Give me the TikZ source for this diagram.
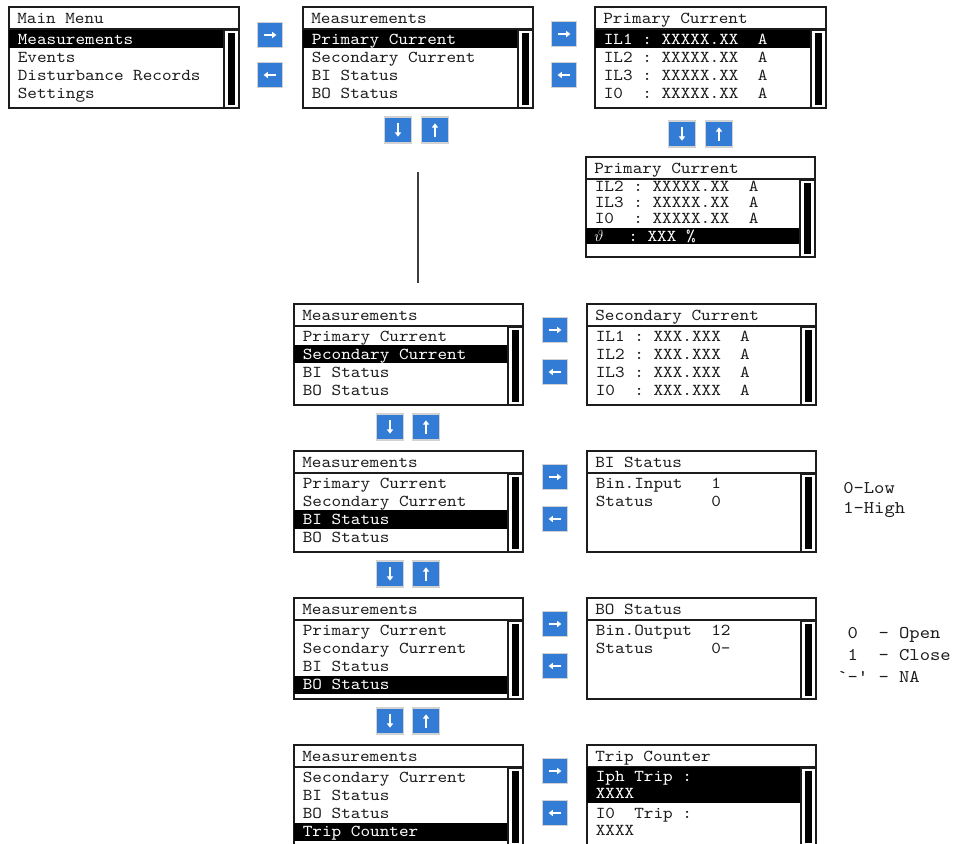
\documentclass[tikz,border=0pt]{standalone}
\usepackage{fontspec}
\newfontfamily\lcdfont[FakeStretch=1.1]{lmmono10-regular.otf}
\usetikzlibrary{fit,arrows.meta}
\definecolor{btnblue}{RGB}{50,124,214}
\definecolor{ink}{RGB}{28,28,28}
\tikzset{
  frame/.style={draw=ink, line width=1.2pt, inner sep=0pt},
  thumb/.style={fill=black, inner sep=0pt},
  selbar/.style={fill=black, inner sep=0pt},
  lcdtext/.style={anchor=base west, inner sep=0pt, font=\lcdfont\fontsize{12.5}{13}\selectfont, text=ink},
  seltext/.style={lcdtext, text=white},
  notetext/.style={anchor=base west, inner sep=0pt, font=\lcdfont\fontsize{13.4}{14}\selectfont, text=ink},
  btn/.style={fill=btnblue, draw=gray!35, line width=1.2pt, minimum width=18.5pt, minimum height=18.5pt, inner sep=0pt},
  vbtn/.style={btn, minimum width=20pt, minimum height=19.5pt},
  btnarrow/.style={white, line width=1.3pt, -{Triangle[length=3.2pt,width=4.6pt]}},
  link/.style={draw=ink!85, line width=1.5pt},
}
% screen: #1 name, #2 left, #3 top, #4 right, #5 title, #6 bottom
\newcommand\lcdscreen[6]{%
  \node[frame, fit={(#2,#3) (#4,#3+22)}] (#1-title) {};
  \node[lcdtext] (#1-head) at (#2+8,#3+16) {#5};
  \node[frame, fit={(#2,#3+22) (#4,#6)}] (#1-body) {};
}
\newcommand\lcdscroll[4]{% #1 name, #2 right, #3 top, #4 bottom
  \node[frame, fit={(#2-15,#3+23) (#2,#4)}] (#1-sbar) {};
  \node[thumb, fit={(#2-11,#3+26) (#2-4,#4-3)}] (#1-thumb) {};
}
% row: #1 name #2 L #3 R #4 T #5 index #6 text
\newcommand\lcdrow[6]{%
  \pgfmathsetmacro\rowbase{#4+37+18.2*#5}%
  \node[lcdtext] (#1) at (#2+8.5,\rowbase) {#6};
}
\newcommand\lcdsel[6]{%
  \pgfmathsetmacro\rowtop{#4+23+18.2*#5}%
  \pgfmathsetmacro\rowbase{#4+37+18.2*#5}%
  \node[selbar, fit={(#2,\rowtop) (#3-15,\rowtop+18.2)}] (#1-bar) {};
  \node[seltext] (#1) at (#2+8.5,\rowbase) {#6};
}
\newcommand\btnright[2]{\node[btn] (#1) at (#2) {};
  \draw[btnarrow] ([xshift=-4.8pt]#1.center) -- ([xshift=4.8pt]#1.center);}
\newcommand\btnleft[2]{\node[btn] (#1) at (#2) {};
  \draw[btnarrow] ([xshift=4.8pt]#1.center) -- ([xshift=-4.8pt]#1.center);}
\newcommand\btndown[2]{\node[vbtn] (#1) at (#2) {};
  \draw[btnarrow] ([yshift=5pt]#1.center) -- ([yshift=-5pt]#1.center);}
\newcommand\btnup[2]{\node[vbtn] (#1) at (#2) {};
  \draw[btnarrow] ([yshift=-5pt]#1.center) -- ([yshift=5pt]#1.center);}

\begin{document}
\begin{tikzpicture}[x=0.75pt,y=-0.75pt]
\useasboundingbox (0,0) rectangle (968,843);
\clip (0,0) rectangle (968,843);

% ---------- Main Menu ----------
\lcdscreen{mm}{9}{7}{239}{Main Menu}{108}
\lcdsel{mm0}{9}{239}{7}{0}{Measurements}
\lcdrow{mm1}{9}{239}{7}{1}{Events}
\lcdrow{mm2}{9}{239}{7}{2}{Disturbance Records}
\lcdrow{mm3}{9}{239}{7}{3}{Settings}
\lcdscroll{mm}{239}{7}{108}

\btnright{b1r}{270,35}
\btnleft{b1l}{270,75}

% ---------- Measurements (top) ----------
\lcdscreen{m1}{303}{7}{533}{Measurements}{108}
\lcdsel{m1r0}{303}{533}{7}{0}{Primary Current}
\lcdrow{m1r1}{303}{533}{7}{1}{Secondary Current}
\lcdrow{m1r2}{303}{533}{7}{2}{BI Status}
\lcdrow{m1r3}{303}{533}{7}{3}{BO Status}
\lcdscroll{m1}{533}{7}{108}

\btnright{b2r}{564,34}
\btnleft{b2l}{564,75}
\btndown{d1}{398,130}
\btnup{u1}{435,130}

% ---------- Primary Current (top) ----------
\lcdscreen{pc}{595}{7}{826}{Primary Current}{108}
\lcdsel{pc0}{595}{826}{7}{0}{IL1~:~XXXXX.XX~~A}
\lcdrow{pc1}{595}{826}{7}{1}{IL2~:~XXXXX.XX~~A}
\lcdrow{pc2}{595}{826}{7}{2}{IL3~:~XXXXX.XX~~A}
\lcdrow{pc3}{595}{826}{7}{3}{I0~~:~XXXXX.XX~~A}
\lcdscroll{pc}{826}{7}{108}

\btndown{d2}{682,134}
\btnup{u2}{719,134}

% ---------- Primary Current (scrolled) ----------
\lcdscreen{pd}{586}{157}{815}{Primary Current}{257}
\node[lcdtext] (pd1) at (594.5,191) {IL2~:~XXXXX.XX~~A};
\node[lcdtext] (pd2) at (594.5,207.5) {IL3~:~XXXXX.XX~~A};
\node[lcdtext] (pd3) at (594.5,223.5) {I0~~:~XXXXX.XX~~A};
\node[selbar, fit={(586,228) (800,244)}] (pd4-bar) {};
\node[seltext, font=\fontsize{12}{12}\selectfont] (pd4a) at (594,241) {$\vartheta$};
\node[seltext] (pd4b) at (628,241) {:~XXX~\%};
\lcdscroll{pd}{815}{157}{257}

% connector line
\coordinate (vtop) at (418,172);
\coordinate (vbot) at (418,283);
\draw[link] (vtop) -- (vbot);

% ---------- Row 2: Secondary Current ----------
\lcdscreen{m2}{294}{304}{523}{Measurements}{405}
\lcdrow{m2r0}{294}{523}{304}{0}{Primary Current}
\lcdsel{m2r1}{294}{523}{304}{1}{Secondary Current}
\lcdrow{m2r2}{294}{523}{304}{2}{BI Status}
\lcdrow{m2r3}{294}{523}{304}{3}{BO Status}
\lcdscroll{m2}{523}{304}{405}

\btnright{b3r}{555,330}
\btnleft{b3l}{555,372}

\lcdscreen{sc}{587}{304}{816}{Secondary Current}{405}
\lcdrow{sc0}{587}{816}{304}{0}{IL1~:~XXX.XXX~~A}
\lcdrow{sc1}{587}{816}{304}{1}{IL2~:~XXX.XXX~~A}
\lcdrow{sc2}{587}{816}{304}{2}{IL3~:~XXX.XXX~~A}
\lcdrow{sc3}{587}{816}{304}{3}{I0~~:~XXX.XXX~~A}
\lcdscroll{sc}{816}{304}{405}

\btndown{d3}{390,427}
\btnup{u3}{426,427}

% ---------- Row 3: BI Status ----------
\lcdscreen{m3}{294}{451}{523}{Measurements}{552}
\lcdrow{m3r0}{294}{523}{451}{0}{Primary Current}
\lcdrow{m3r1}{294}{523}{451}{1}{Secondary Current}
\lcdsel{m3r2}{294}{523}{451}{2}{BI Status}
\lcdrow{m3r3}{294}{523}{451}{3}{BO Status}
\lcdscroll{m3}{523}{451}{552}

\btnright{b4r}{555,477}
\btnleft{b4l}{555,519}

\lcdscreen{bi}{587}{451}{816}{BI Status}{552}
\lcdrow{bi0}{587}{816}{451}{0}{Bin.Input~~~1}
\lcdrow{bi1}{587}{816}{451}{1}{Status~~~~~~0}
\lcdscroll{bi}{816}{451}{552}

\node[notetext] (n1) at (843,493) {0-Low};
\node[notetext] (n2) at (843,513) {1-High};

\btndown{d4}{390,574}
\btnup{u4}{426,574}

% ---------- Row 4: BO Status ----------
\lcdscreen{m4}{294}{598}{523}{Measurements}{699}
\lcdrow{m4r0}{294}{523}{598}{0}{Primary Current}
\lcdrow{m4r1}{294}{523}{598}{1}{Secondary Current}
\lcdrow{m4r2}{294}{523}{598}{2}{BI Status}
\lcdsel{m4r3}{294}{523}{598}{3}{BO Status}
\lcdscroll{m4}{523}{598}{699}

\btnright{b5r}{555,624}
\btnleft{b5l}{555,666}

\lcdscreen{bo}{587}{598}{816}{BO Status}{699}
\lcdrow{bo0}{587}{816}{598}{0}{Bin.Output~~12}
\lcdrow{bo1}{587}{816}{598}{1}{Status~~~~~~0-}
\lcdscroll{bo}{816}{598}{699}

\node[notetext] (n3) at (837,638) {~0~~-~Open};
\node[notetext] (n4) at (837,660) {~1~~-~Close};
\node[notetext] (n5) at (837,682) {`-'~-~NA};

\btndown{d5}{390,721}
\btnup{u5}{426,721}

% ---------- Row 5: Trip Counter ----------
\lcdscreen{m5}{294}{745}{523}{Measurements}{846}
\lcdrow{m5r0}{294}{523}{745}{0}{Secondary Current}
\lcdrow{m5r1}{294}{523}{745}{1}{BI Status}
\lcdrow{m5r2}{294}{523}{745}{2}{BO Status}
\lcdsel{m5r3}{294}{523}{745}{3}{Trip Counter}
\lcdscroll{m5}{523}{745}{846}

\btnright{b6r}{555,771}
\btnleft{b6l}{555,813}

\lcdscreen{tc}{587}{745}{816}{Trip Counter}{846}
\node[selbar, fit={(587,767) (801,803)}] (tc0-bar) {};
\node[seltext] (tc0) at (595.5,781) {Iph Trip :};
\node[seltext] (tc1) at (595.5,798) {XXXX};
\node[lcdtext] (tc2) at (595.5,818) {I0~~Trip :};
\node[lcdtext] (tc3) at (595.5,835) {XXXX};
\lcdscroll{tc}{816}{745}{846}
\end{tikzpicture}
\end{document}
